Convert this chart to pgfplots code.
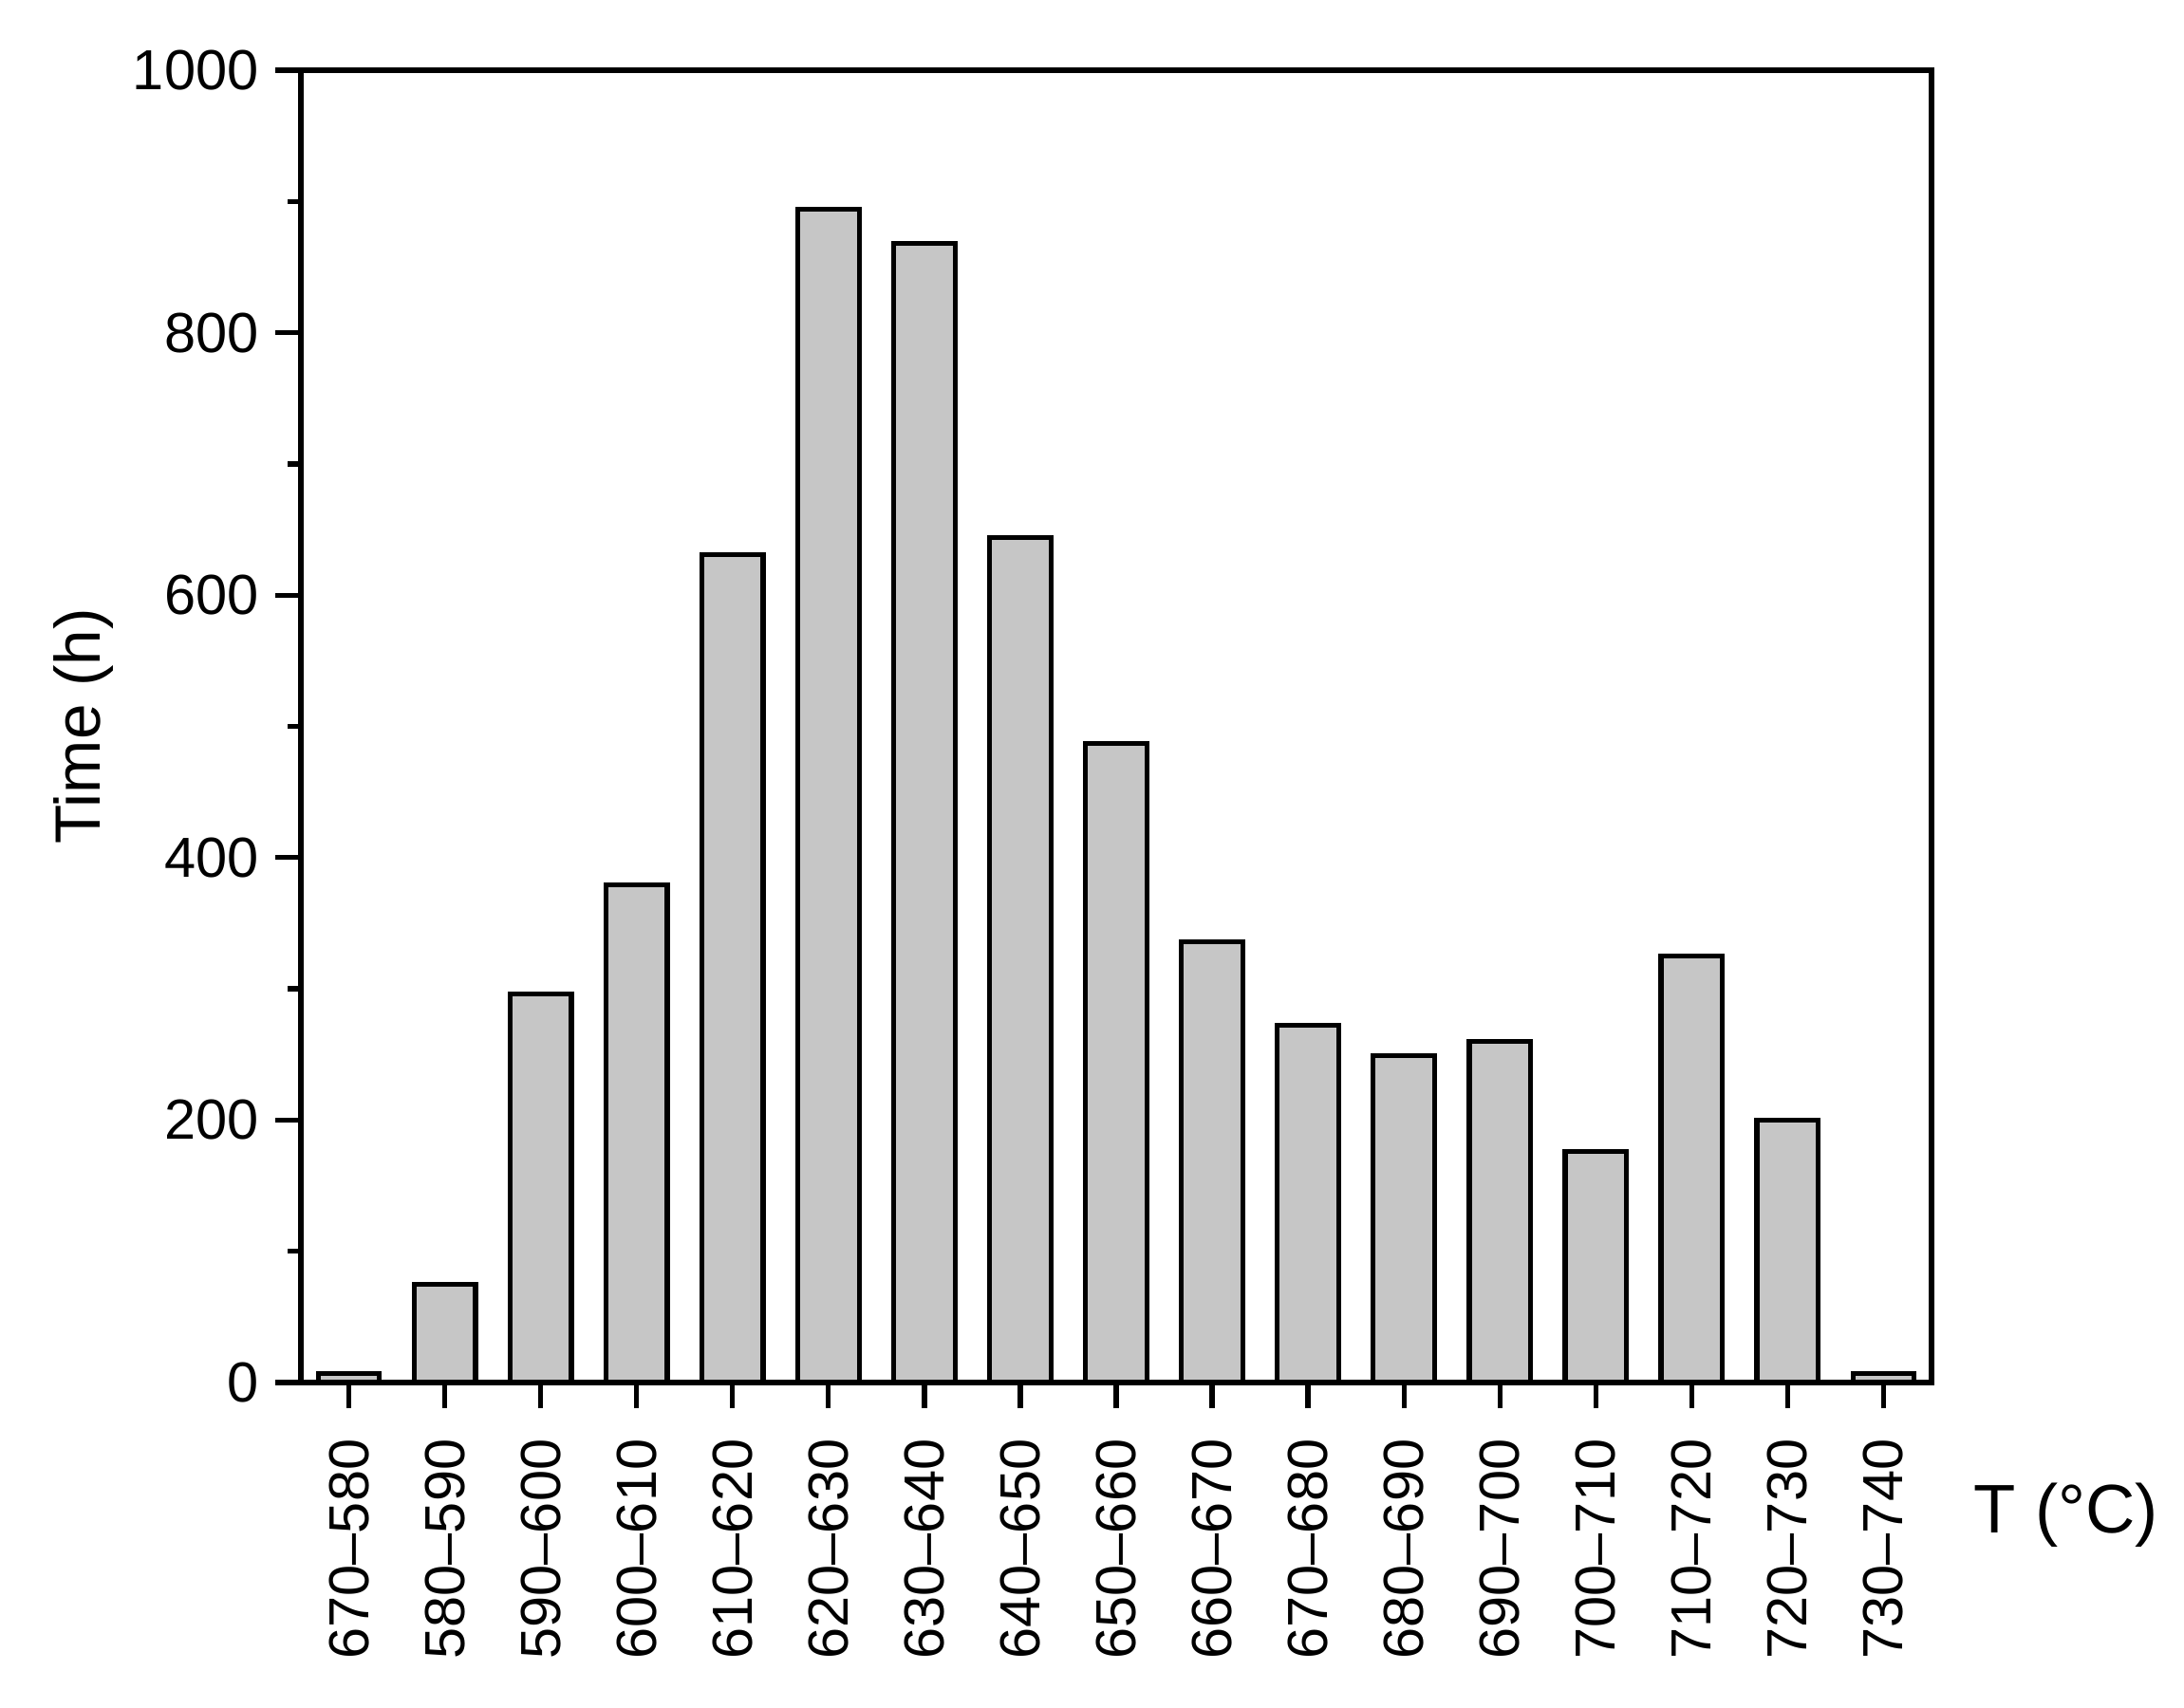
\documentclass[border=0pt]{standalone}
\usepackage{fontspec}
\setmainfont{Liberation Sans}
\usepackage{pgfplots}
\pgfplotsset{compat=1.18}
\definecolor{barfill}{RGB}{198,198,198}
\begin{document}
\begin{tikzpicture}
\useasboundingbox (-63.4pt,-68.4pt) rectangle (396.8pt,291.4pt);
\begin{axis}[
  at={(0,0)}, anchor=south west,
  scale only axis,
  width=343.6pt, height=276.6pt,
  xmin=-0.5, xmax=16.5,
  ymin=0, ymax=1000,
  ybar, bar width=0.64,
  axis line style={line width=1.05pt},
  every tick/.style={black, line width=1.05pt},
  tick align=outside,
  xtick pos=left, ytick pos=left,
  major tick length=5.4pt,
  minor tick length=2.7pt,
  xtick={0,...,16},
  xticklabels={670--580,580--590,590--600,600--610,610--620,620--630,630--640,640--650,650--660,660--670,670--680,680--690,690--700,700--710,710--720,720--730,730--740},
  ytick={0,200,400,600,800,1000},
  minor ytick={100,300,500,700,900},
  yticklabel style={/pgf/number format/1000 sep={}},
  /pgf/number format/assume math mode=true,
  tick label style={font=\fontsize{11.9}{14}\selectfont},
  xticklabel style={yshift=-3pt, rotate=90, anchor=east},
  xlabel={T (°C)},
  xlabel style={at={(axis description cs:1.0157,-0.101)}, anchor=west, font=\fontsize{14.5}{17}\selectfont},
  ylabel={Time (h)},
  ylabel style={at={(axis description cs:-0.1333,0.5)}, anchor=center, font=\fontsize{13.5}{16}\selectfont},
]
\addplot[draw=black, line width=1.05pt, fill=barfill] coordinates {
 (0,7) (1,75) (2,296) (3,379) (4,631) (5,894) (6,868) (7,644) (8,487)
 (9,336) (10,272) (11,249) (12,260) (13,176) (14,325) (15,200) (16,7)
};
\end{axis}
\end{tikzpicture}
\end{document}
